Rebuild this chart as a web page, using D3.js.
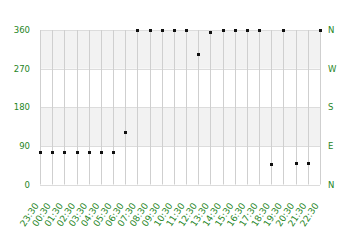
<!DOCTYPE html>
<html>
<head>
<meta charset="utf-8">
<script src="https://cdn.jsdelivr.net/npm/d3@7"></script>
<style>
  body { margin: 0; background: #fff; }
  svg text { font-family: "DejaVu Sans", Verdana, sans-serif; font-size: 8.5px; fill: #1f861f; }
  svg .xlab { font-size: 9px; }
</style>
</head>
<body>
<svg id="chart" width="360" height="240"></svg>
<script>
// hourly wind direction readings (degrees)
const hours = ["23:30", "00:30", "01:30", "02:30", "03:30", "04:30", "05:30", "06:30",
  "07:30", "08:30", "09:30", "10:30", "11:30", "12:30", "13:30", "14:30", "15:30",
  "16:30", "17:30", "18:30", "19:30", "20:30", "21:30", "22:30"];
const direction = [75, 75, 75, 75, 75, 75, 75, 122, 360, 360, 360, 360, 360, 303, 355,
  360, 360, 360, 360, 47, 360, 49, 49, 360];
const yTicks = [0, 90, 180, 270, 360];
const compass = ["N", "E", "S", "W", "N"];
const bands = [[90, 180], [270, 360]];

const svg = d3.select("#chart");
const plotL = 40, plotR = 320, plotT = 30, plotB = 184.5;

const x = d3.scalePoint().domain(hours).range([plotL, plotR]).padding(0);
const y = d3.scaleLinear().domain([0, 360]).range([plotB, plotT]);

// grey bands
svg.append("g").selectAll("rect").data(bands).join("rect")
  .attr("x", plotL).attr("width", plotR - plotL)
  .attr("y", d => y(d[1])).attr("height", d => y(d[0]) - y(d[1]))
  .attr("fill", "#f2f2f2");

// horizontal lines
svg.append("g").selectAll("line").data(yTicks).join("line")
  .attr("x1", plotL).attr("x2", plotR)
  .attr("y1", d => Math.round(y(d)) + 0.5).attr("y2", d => Math.round(y(d)) + 0.5)
  .attr("stroke", "#dcdcdc");

// vertical grid
svg.append("g").selectAll("line").data(hours).join("line")
  .attr("x1", d => Math.round(x(d)) + 0.5).attr("x2", d => Math.round(x(d)) + 0.5)
  .attr("y1", plotT).attr("y2", plotB)
  .attr("stroke", "#cfcfcf");

// left axis labels
svg.append("g").selectAll("text").data(yTicks).join("text")
  .attr("x", 30).attr("y", d => y(d) + 3)
  .attr("text-anchor", "end")
  .text(d => d);

// right compass labels
svg.append("g").selectAll("text").data(yTicks).join("text")
  .attr("x", 328).attr("y", d => y(d) + 3)
  .text((d, i) => compass[i]);

// x labels, rotated
svg.append("g").selectAll("text").data(hours).join("text")
  .attr("class", "xlab")
  .attr("text-anchor", "end")
  .attr("transform", d => `translate(${x(d) - 1},${plotB + 21}) rotate(-57)`)
  .text(d => d);

// markers
svg.append("g").selectAll("rect").data(direction).join("rect")
  .attr("x", (d, i) => Math.round(x(hours[i])) - 1)
  .attr("y", d => Math.round(y(d)) - 1)
  .attr("width", 3).attr("height", 3)
  .attr("fill", "#111");
</script>
</body>
</html>
